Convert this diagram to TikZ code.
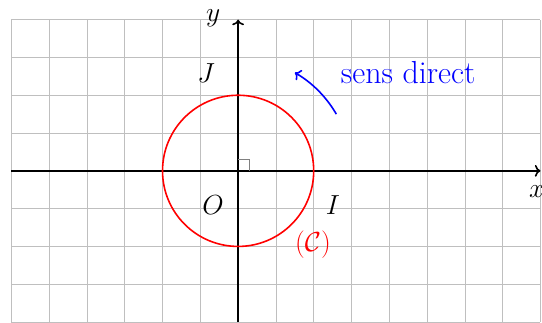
\documentclass[tikz,border=0pt]{standalone}
\usetikzlibrary{arrows.meta}
\begin{document}
\begin{tikzpicture}[x=1cm,y=1cm]
\tikzset{
  gridline/.style={gray!50,line width=0.5pt},
  axis/.style={->,line width=1.2pt},
  circleline/.style={red,line width=1.2pt},
  sensarrow/.style={->,blue,line width=1.2pt},
  biglabel/.style={font=\fontsize{21}{25}\selectfont,inner sep=1pt}
}
\useasboundingbox (-6.3,-4) rectangle (8.04,4.52);
\draw[gridline] (-6,-4) grid (8,4);
\coordinate (x_min) at (-6,0);
\coordinate (x_max) at (8,0);
\coordinate (y_min) at (0,-4);
\coordinate (y_max) at (0,4);
\draw[axis] (x_min) -- (x_max);
\draw[axis] (y_min) -- (y_max);
\draw[gray,line width=0.5pt] (0,0.3) -- (0.3,0.3) -- (0.3,0);
\draw[circleline] (0,0) circle (2);
\coordinate (arc_start) at (30:3);
\draw[sensarrow] (arc_start) arc (30:60:3);
\node[biglabel] (l_x) at (7.9,-0.55) {$x$};
\node[biglabel] (l_y) at (-0.66,4.05) {$y$};
\node[biglabel] (l_J) at (-0.85,2.59) {$J$};
\node[biglabel] (l_O) at (-0.66,-0.9) {$O$};
\node[biglabel] (l_I) at (2.51,-0.9) {$I$};
\node[biglabel,red] (l_C) at (1.98,-1.96) {$(\mathcal{C})$};
\node[biglabel,blue,font=\fontsize{24}{28}\selectfont] (l_sens) at (4.5,2.59) {sens direct};
\end{tikzpicture}
\end{document}
